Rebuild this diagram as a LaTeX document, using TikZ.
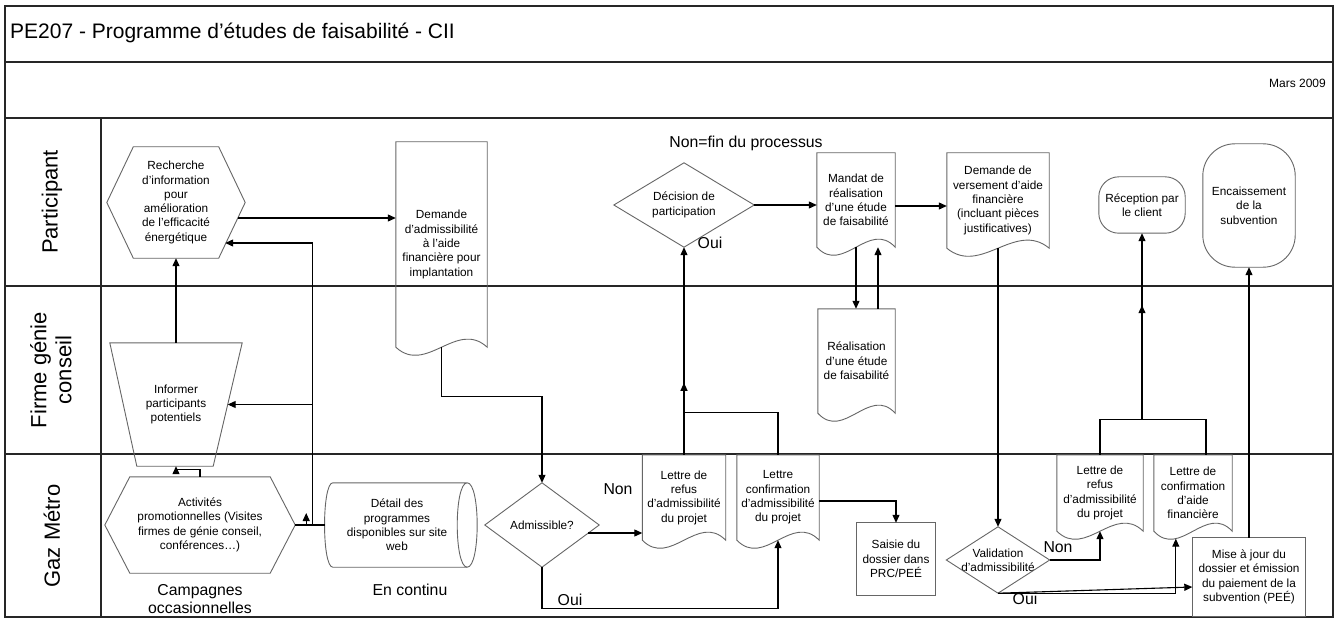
\documentclass[tikz,border=0pt]{standalone}
\usepackage{fontspec}
\setmainfont{Liberation Sans}
\usetikzlibrary{calc,arrows.meta}
\newcommand\nodefont{\fontsize{11.8}{14.3}\selectfont}
\newcommand\lblfont{\fontsize{15.8}{18.5}\selectfont}
\newcommand\mynode[6]{\node[box, minimum width=#4pt, minimum height=#5pt] (#1) at (#2,#3) {#6};}
\newcommand\docdraw[1]{\draw[shp] (#1.south west) -- (#1.north west) -- (#1.north east) -- (#1.south east) .. controls ($(#1.south east)!0.333!(#1.south west)+(0,-28)$) and ($(#1.south east)!0.667!(#1.south west)+(0,28)$) .. (#1.south west) -- cycle;}
\newcommand\hexdraw[2]{\draw[shp] (#1.west) -- ([xshift=#2pt]#1.north west) -- ([xshift=-#2pt]#1.north east) -- (#1.east) -- ([xshift=-#2pt]#1.south east) -- ([xshift=#2pt]#1.south west) -- cycle;}
\newcommand\diadraw[1]{\draw[shp] (#1.west) -- (#1.north) -- (#1.east) -- (#1.south) -- cycle;}
\begin{document}
\begin{tikzpicture}[x=1pt,y=-1pt,
  frame/.style={draw=black!85, line width=1.2pt},
  shp/.style={draw=black!60, line width=0.9pt},
  conn/.style={draw=black, line width=1.1pt},
  arr/.style={conn, -{Triangle[length=8pt,width=7pt]}},
  box/.style={inner sep=0pt, align=center, font=\nodefont},
  lbl/.style={inner sep=0pt, align=center, font=\lblfont},
  lane/.style={inner sep=0pt, align=center, rotate=90, font=\fontsize{22}{25}\selectfont}]
\fill[white] (0,0) rectangle (1340,620);
\useasboundingbox (0,0) rectangle (1340,620);
% frame
\draw[frame] (5,6) rectangle (1333,617);
\draw[frame] (5,62) -- (1333,62);
\draw[frame] (5,118) -- (1333,118);
\draw[frame] (5,286) -- (1333,286);
\draw[frame] (5,454) -- (1333,454);
\draw[frame] (101,118) -- (101,617);
% header texts
\node[inner sep=0pt, anchor=west, font=\fontsize{21}{24}\selectfont] (title) at (10,33) {PE207 - Programme d’études de faisabilité - CII};
\node[inner sep=0pt, anchor=east, font=\fontsize{12}{14}\selectfont] (mars) at (1326,83) {Mars 2009};
\node[lane] (l1) at (52,202) {Participant};
\node[lane] (l2) at (51,370) {Firme génie\\conseil};
\node[lane] (l3) at (52,536) {Gaz Métro};
% nodes
\mynode{rech}{176}{202.5}{138}{111}{Recherche\\d'information\\pour\\amélioration\\de l'efficacité\\énergétique}
\mynode{inf}{176}{404.5}{132}{123}{Informer\\participants\\potentiels}
\mynode{act}{200}{525}{190}{96}{Activités\\promotionnelles (Visites\\firmes de génie conseil,\\conférences…)}
\mynode{det}{397}{525}{144}{84}{Détail des\\programmes\\disponibles sur site\\web}
\mynode{dem}{441.5}{244.5}{91}{205}{Demande\\d'admissibilité\\à l'aide\\financière pour\\implantation}
\mynode{adm}{542}{525}{114}{84}{Admissible?}
\mynode{ref1}{684}{497.5}{83}{85}{Lettre de\\refus\\d'admissibilité\\du projet}
\mynode{conf1}{778}{497.5}{82}{85}{Lettre\\confirmation\\d'admissibilité\\du projet}
\mynode{sai}{896}{559}{78}{72}{Saisie du\\dossier dans\\PRC/PEÉ}
\mynode{dec}{684}{205}{140}{84}{Décision de\\participation}
\mynode{man}{856}{200}{78}{94}{Mandat de\\réalisation\\d'une étude\\de faisabilité}
\mynode{rea}{856.5}{361}{77}{104}{Réalisation\\d'une étude\\de faisabilité}
\mynode{ver}{998}{200.5}{102}{95}{Demande de\\versement d'aide\\financière\\(incluant pièces\\justificatives)}
\mynode{val}{998}{560}{103}{66}{Validation\\d'admissibilité}
\mynode{ref2}{1100}{493}{86}{76}{Lettre de\\refus\\d'admissibilité\\du projet}
\mynode{conf2}{1193}{493}{78}{76}{Lettre de\\confirmation\\d'aide\\financière}
\mynode{maj}{1249}{577}{113}{78}{Mise à jour du\\dossier et émission\\du paiement de la\\subvention (PEÉ)}
\mynode{rec}{1142}{205}{86}{56}{Réception par\\le client}
\mynode{enc}{1249}{205.5}{92}{123}{Encaissement\\de la\\subvention}
% outlines
\hexdraw{rech}{26.5}
\hexdraw{act}{25}
\draw[shp] (inf.north west) -- (inf.north east) -- ([xshift=-29pt]inf.south east) -- ([xshift=27pt]inf.south west) -- cycle;
\draw[shp] ($(det.north west)+(8,0)$) -- ($(det.north east)+(-2,0)$) .. controls ($(det.north east)+(11.3,0)$) and ($(det.south east)+(11.3,0)$) .. ($(det.south east)+(-2,0)$) .. controls ($(det.south east)+(-15.3,0)$) and ($(det.north east)+(-15.3,0)$) .. ($(det.north east)+(-2,0)$);
\draw[shp] ($(det.south east)+(-2,0)$) -- ($(det.south west)+(8,0)$) .. controls ($(det.south west)+(-3,0)$) and ($(det.north west)+(-3,0)$) .. ($(det.north west)+(8,0)$);
\diadraw{adm}
\diadraw{dec}
\diadraw{val}
\docdraw{dem}
\docdraw{ref1}
\docdraw{conf1}
\docdraw{man}
\docdraw{rea}
\docdraw{ver}
\docdraw{ref2}
\docdraw{conf2}
\draw[shp] (sai.north west) rectangle (sai.south east);
\draw[shp] (maj.north west) rectangle (maj.south east);
\draw[shp, rounded corners=20pt] (rec.north west) rectangle (rec.south east);
\draw[shp, rounded corners=32pt] (enc.north west) rectangle (enc.south east);
% labels
\node[lbl] (nonfin) at (746,143) {Non=fin du processus};
\node[lbl] (oui1) at (710,243) {Oui};
\node[lbl] (non1) at (618,489) {Non};
\node[lbl] (oui2) at (570,600) {Oui};
\node[lbl] (non2) at (1058,547) {Non};
\node[lbl] (oui3) at (1025,599) {Oui};
\node[lbl] (camp) at (200,599) {Campagnes\\occasionnelles};
\node[lbl] (cont) at (410,590) {En continu};
% connectors
\draw[arr] ($(rech.east)+(-7,15.5)$) coordinate (r1) -- (r1 -| dem.west);
\draw[conn] (act.east) -- (det.west);
\coordinate (j) at ($(act.east)!0.57!(det.west)$);
\draw[arr] (j) |- ($(rech.east)+(-20,40.5)$);
\draw[arr] (j |- inf.east) -- ($(inf.east)+(-14.5,0)$);
\draw[arr] ($(act.east)+(11,0)$) -- ++(0,-12);
\draw[arr] (act.north) -- ++(0,-7) -| (inf.south);
\draw[arr] (inf.north) -- (rech.south);
\draw[arr] (dem.south) -- ++(0,49) -| (adm.north);
\draw[arr] ($(adm.east)+(-11,8)$) coordinate (a1) -- (a1 -| ref1.west);
\draw[arr] (adm.south) -- ++(0,41) -| (conf1.south);
\draw[arr] ($(conf1.east)+(0,3.5)$) coordinate (c1) -| (sai.north);
\draw[arr] (ref1.north) -- ++(0,-72);
\draw[arr] (conf1.north) -- ++(0,-42) -| (dec.south);
\draw[arr] (dec.east) -- (dec.east -| man.west);
\draw[arr] ($(man.east)+(0,6)$) coordinate (m1) -- (m1 -| ver.west);
\draw[arr] (man.south) -- (man.south |- rea.north);
\draw[arr] ($(rea.north)+(21.5,0)$) coordinate (r2) -- (r2 |- man.south);
\draw[arr] (ver.south) -- (val.north);
\draw[arr] (val.east) -| (ref2.south);
\draw[arr] (val.south) -| ($(conf2.south west)+(22,7.5)$);
\draw[arr] (val.south) -- ($(maj.west)+(0,10)$);
\draw[arr] (ref2.north) -- ++(0,-35) -| ($(rec.south)+(0,72)$);
\draw[arr] ($(conf2.north)+(13,0)$) -- ++(0,-35) -| (rec.south);
\draw[arr] (maj.north) -- (maj.north |- enc.south);
\end{tikzpicture}
\end{document}
